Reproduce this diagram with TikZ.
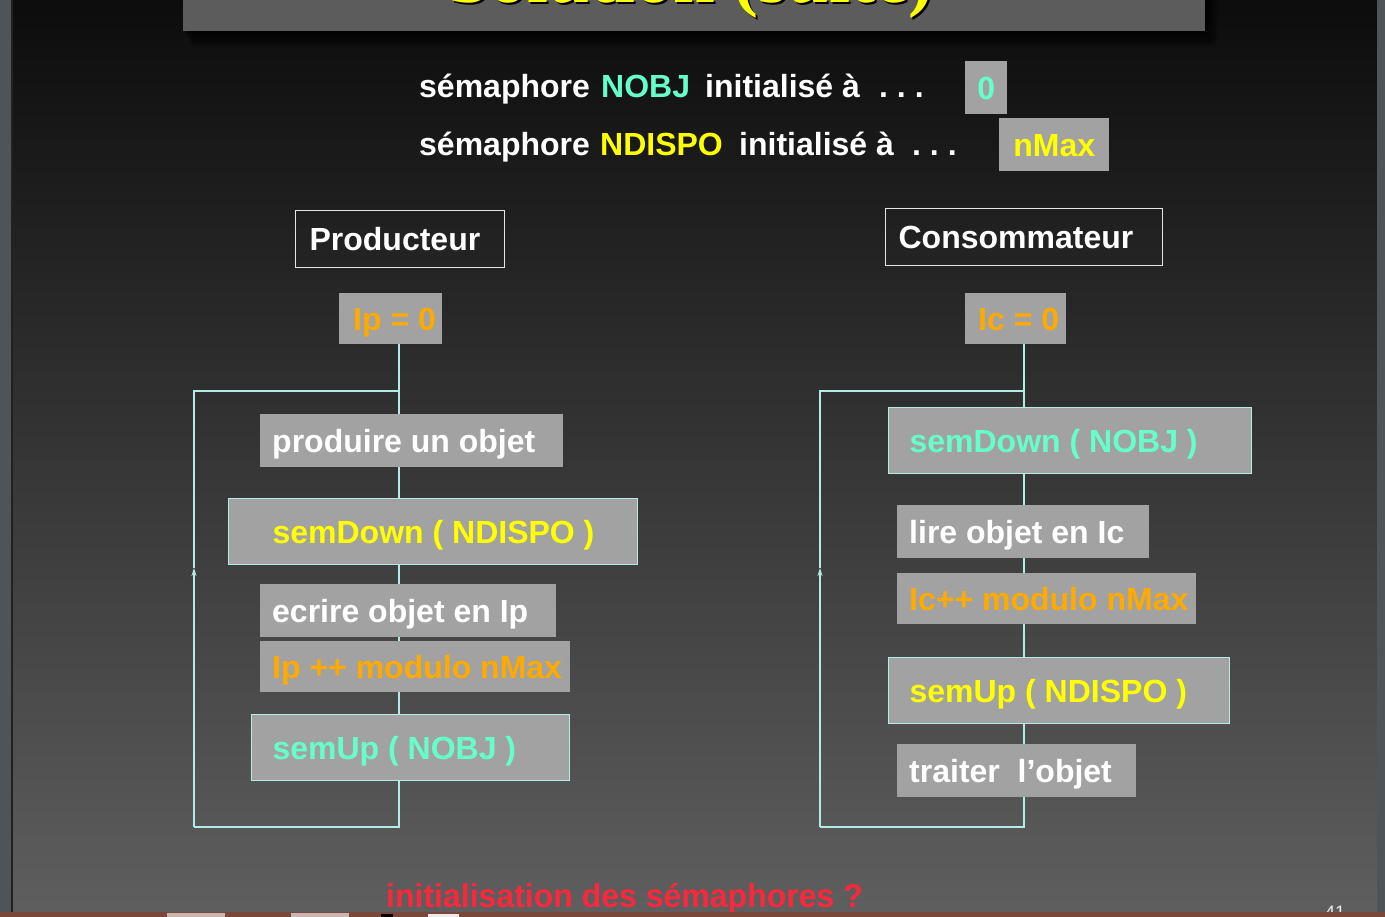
\documentclass[tikz,border=0pt]{standalone}
\usepackage{fontspec}
\setmainfont{Liberation Sans}
\newfontfamily\titlefont{Liberation Serif}
\usetikzlibrary{arrows.meta}

\definecolor{boxgray}{RGB}{162,162,162}
\definecolor{wire}{RGB}{178,236,228}
\definecolor{aqua}{RGB}{102,255,204}
\definecolor{lemon}{RGB}{255,255,0}
\definecolor{amber}{RGB}{255,170,0}
\definecolor{alert}{RGB}{250,40,60}
\definecolor{banner}{RGB}{92,92,92}
\definecolor{edge}{RGB}{78,84,88}
\definecolor{rust}{RGB}{122,72,58}
\definecolor{bgtop}{RGB}{12,12,12}
\definecolor{bgbot}{RGB}{95,95,95}

\newcommand{\bodyfont}{\fontsize{32}{38}\selectfont\bfseries}
% fixed-width, left-aligned label inside a box (never breaks lines)
\newcommand{\padded}[2]{\makebox[#1pt][l]{#2}}

\pgfdeclarelayer{back}
\pgfdeclarelayer{wires}
\pgfsetlayers{back,wires,main}

\begin{document}
\begin{tikzpicture}[x=1pt,y=-1pt,
  txt/.style={font=\bodyfont, text=white, inner sep=0pt, anchor=base west},
  cell/.style={fill=boxgray, anchor=north west, inner ysep=0pt, font=\bodyfont,
    text=white, text height=23pt, text depth=0pt},
  framed/.style={cell, draw=wire, line width=1.2pt},
  headbox/.style={draw=white!80!gray, line width=1.2pt, anchor=north west,
    inner ysep=0pt, font=\bodyfont, text=white, text height=23pt, text depth=0pt},
  wirestyle/.style={draw=wire, line width=1.3pt},
  uparrow/.style={wirestyle, -{Stealth[length=8pt,width=5pt]}},
]
\useasboundingbox (0,0) rectangle (1385,917);

% ---------- backdrop ----------
\begin{pgfonlayer}{back}
  \shade[top color=bgtop, bottom color=bgbot] (0,0) rectangle (1385,917);
  \fill[edge] (0,0) rectangle (12,917);
  \fill[edge] (1377,0) rectangle (1385,917);
  \fill[black!60!edge] (11,0) rectangle (12.5,912);
  % title banner with its soft shadow
  \foreach \k in {1,...,10}
    \fill[black, opacity=0.11] (183+\k, -5) rectangle (1205+1.2*\k, 31+1.6*\k);
  \fill[banner] (183,-5) rectangle (1205,31);
\end{pgfonlayer}

\node[font=\titlefont\fontsize{75}{80}\selectfont\bfseries, text=black, anchor=base, inner sep=0pt]
  at (693,4.5) {Solution (suite)};
\node[font=\titlefont\fontsize{75}{80}\selectfont\bfseries, text=lemon, anchor=base, inner sep=0pt]
  (title) at (691,3) {Solution (suite)};

% ---------- semaphore initialisation ----------
\node[txt] (s1a) at (419,98) {sémaphore};
\node[txt, text=aqua] (s1b) at (601,98) {NOBJ};
\node[txt] (s1c) at (705,98) {initialisé à};
\node[txt] (s1d) at (879,98) {.\ .\ .};
\node[cell, text=aqua, minimum width=42pt, minimum height=53pt, inner xsep=0pt] (v1) at (965,61) {0};

\node[txt] (s2a) at (419,156) {sémaphore};
\node[txt, text=lemon] (s2b) at (600,156) {NDISPO};
\node[txt] (s2c) at (739,156) {initialisé à};
\node[txt] (s2d) at (912,156) {.\ .\ .};
\node[cell, text=lemon, minimum width=110pt, minimum height=53pt, inner xsep=0pt] (v2) at (999,118) {nMax};

% ---------- producer ----------
\node[headbox, minimum height=57pt, inner xsep=14pt] (prodh) at (295,210) {\padded{181}{Producteur}};
\node[cell, text=amber, minimum height=51pt, inner xsep=14pt] (ip) at (339,293) {\padded{75}{Ip = 0}};

\node[cell, minimum height=53pt, inner xsep=12pt] (p1) at (260,414) {\padded{279}{produire un objet}};
\node[framed, text=lemon, minimum height=66pt, inner xsep=44pt] (p2) at (228,498) {\padded{321}{semDown ( NDISPO )}};
\node[cell, minimum height=53pt, inner xsep=12pt] (p3) at (260,584) {\padded{272}{ecrire objet en Ip}};
\node[cell, text=amber, minimum height=51pt, inner xsep=12pt] (p4) at (260,641) {\padded{286}{Ip ++ modulo nMax}};
\node[framed, text=aqua, minimum height=66pt, inner xsep=21pt] (p5) at (251,714) {\padded{276}{semUp ( NOBJ )}};

% ---------- consumer ----------
\node[headbox, minimum height=57pt, inner xsep=13pt] (consh) at (885,208) {\padded{251}{Consommateur}};
\node[cell, text=amber, minimum height=51pt, inner xsep=13pt] (ic) at (965,293) {\padded{75}{Ic = 0}};

\node[framed, text=aqua, minimum height=66pt, inner xsep=21pt] (c1) at (888,407) {\padded{321}{semDown ( NOBJ )}};
\node[cell, minimum height=53pt, inner xsep=12pt] (c2) at (897,505) {\padded{228}{lire objet en Ic}};
\node[cell, text=amber, minimum height=51pt, inner xsep=12pt] (c3) at (897,573) {\padded{275}{Ic++ modulo nMax}};
\node[framed, text=lemon, minimum height=66pt, inner xsep=21pt] (c4) at (888,657) {\padded{299}{semUp ( NDISPO )}};
\node[cell, minimum height=53pt, inner xsep=12pt] (c5) at (897,744) {\padded{215}{traiter\ \ l’objet}};

% ---------- control flow ----------
\coordinate (Lj)  at (399,391);
\coordinate (Lb)  at (399,827);
\coordinate (Lbl) at (194,827);
\coordinate (Lal) at (194,568);
\coordinate (Ltl) at (194,391);

\coordinate (Rj)  at (1024,391);
\coordinate (Rb)  at (1024,827);
\coordinate (Rbl) at (820,827);
\coordinate (Ral) at (820,568);
\coordinate (Rtl) at (820,391);

\begin{pgfonlayer}{wires}
  \draw[wirestyle] (ip.south -| Lb) -- (Lb) -- (Lbl);
  \draw[uparrow] (Lbl) -- (Lal);
  \draw[wirestyle] (Lal) -- (Ltl) -- (Lj);

  \draw[wirestyle] (ic.south -| Rb) -- (Rb) -- (Rbl);
  \draw[uparrow] (Rbl) -- (Ral);
  \draw[wirestyle] (Ral) -- (Rtl) -- (Rj);
\end{pgfonlayer}

% ---------- footer ----------
\node[font=\fontsize{33}{38}\selectfont\bfseries, text=alert, anchor=base west, inner sep=0pt, xscale=0.97]
  (question) at (386,907) {initialisation des sémaphores ?};
\node[font=\fontsize{18}{20}\selectfont, text=white!85!gray, anchor=base west, inner sep=0pt]
  (page) at (1325,918) {41};

\fill[rust] (0,912) rectangle (1385,917);
\fill[rust!40!white] (167,913) rectangle (225,917);
\fill[rust!40!white] (291,913) rectangle (349,917);
\fill[black] (381,914) rectangle (393,917);
\fill[white!85!gray] (428,914) rectangle (459,917);
\end{tikzpicture}
\end{document}
